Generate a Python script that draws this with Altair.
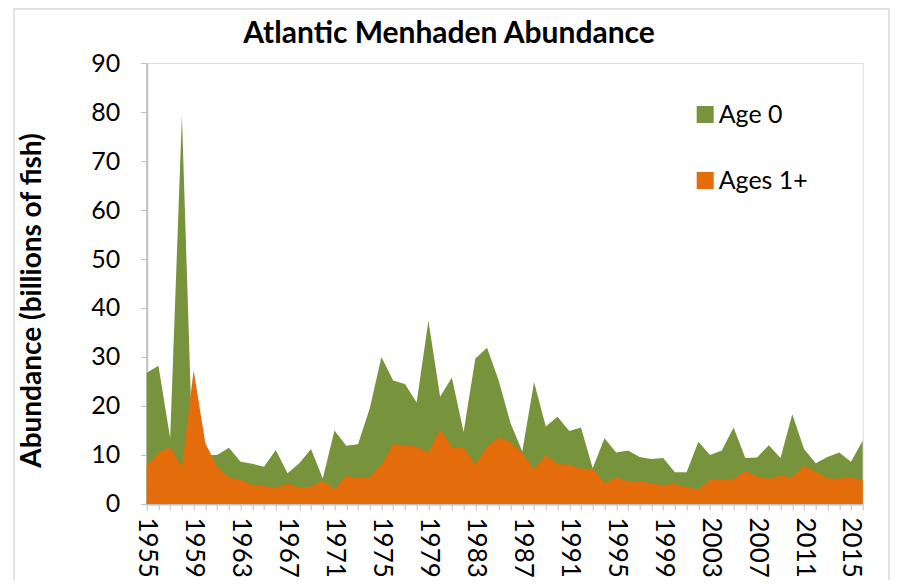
import altair as alt
import pandas as pd

years = list(range(1955, 2017))
age0 = [26.8, 28.2, 13.4, 79.3, 3.5, 10.0, 10.0, 11.5, 8.6, 8.2,
        7.6, 11.0, 6.3, 8.3, 11.2, 5.2, 15.0, 11.9, 12.2, 19.5,
        30.0, 25.2, 24.5, 20.7, 37.4, 21.9, 25.8, 14.7, 29.7, 31.9,
        25.1, 16.5, 10.7, 24.9, 15.8, 17.8, 14.9, 15.6, 7.3, 13.4,
        10.5, 10.9, 9.6, 9.2, 9.4, 6.5, 6.5, 12.7, 10.0, 10.9,
        15.6, 9.4, 9.5, 12.0, 9.4, 18.3, 11.2, 8.3, 9.6, 10.5,
        8.6, 12.9]
ages1 = [7.8, 10.5, 11.6, 7.5, 27.3, 12.4, 7.6, 5.4, 4.9, 3.9,
         3.7, 3.2, 4.2, 3.3, 3.5, 4.7, 3.0, 5.7, 5.4, 5.4,
         8.0, 12.2, 12.0, 11.7, 10.5, 15.2, 11.7, 11.5, 8.1, 11.7,
         13.6, 12.6, 10.3, 7.1, 10.0, 8.1, 8.0, 7.2, 7.2, 4.3,
         5.4, 4.7, 4.7, 4.2, 3.9, 4.1, 3.4, 3.0, 4.9, 4.9,
         5.1, 6.8, 5.6, 5.1, 5.8, 5.4, 7.8, 6.6, 5.2, 5.2,
         5.4, 4.9]
series = ["Age 0", "Ages 1+"]
colors = ["#77933C", "#E46C0A"]
y_ticks = list(range(0, 91, 10))
chart_title = "Atlantic Menhaden Abundance"

df = pd.DataFrame({"Year": years, "Age 0": age0, "Ages 1+": ages1})

FONT = "Lato"
GRAY = "#BFBFBF"

color_scale = alt.Scale(domain=series, range=colors)

x_enc = alt.X(
    "Year:Q",
    scale=alt.Scale(domain=[1955, 2016], nice=False, zero=False),
    axis=alt.Axis(
        title=None,
        values=years,
        labelExpr="(datum.value - 1955) % 4 == 0 ? datum.label : ''",
        format="d",
        labelAngle=90,
        labelAlign="left",
        labelBaseline="middle",
        labelPadding=7,
        labelOverlap=False,
        labelFontSize=26,
        labelFont=FONT,
        labelColor="#000000",
        tickSize=6,
        tickColor=GRAY,
        domainColor=GRAY,
        domainWidth=2,
        grid=False,
    ),
)

y_axis = alt.Axis(
    title="Abundance (billions of fish)",
    titleFont=FONT,
    titleFontSize=28,
    titleFontWeight="bold",
    titleColor="#000000",
    titleX=-100,
    titleY=237,
    values=y_ticks,
    labelFontSize=25,
    labelFont=FONT,
    labelColor="#000000",
    labelPadding=21,
    tickSize=6,
    tickColor=GRAY,
    domainColor=GRAY,
    domainWidth=2,
    grid=False,
)

base = alt.Chart(df)

green = base.mark_area(color=colors[0]).encode(
    x=x_enc,
    y=alt.Y("Age 0:Q", scale=alt.Scale(domain=[0, 90], nice=False), axis=y_axis),
    color=alt.Color(
        "s:N",
        scale=color_scale,
        legend=alt.Legend(
            title=None,
            orient="none",
            legendX=546,
            legendY=39,
            symbolType="square",
            symbolSize=289,
            symbolStrokeWidth=0,
            labelFontSize=25,
            labelFont=FONT,
            labelColor="#000000",
            labelOffset=1,
            rowPadding=40,
            padding=0,
        ),
    ),
).transform_calculate(s="'Age 0'")

orange = base.mark_area().encode(
    x=x_enc,
    y=alt.Y("Ages 1+:Q"),
    color=alt.Color("s:N", scale=color_scale),
).transform_calculate(s="'Ages 1+'")

frame = alt.Chart(alt.Data(values=[{}])).mark_rect(
    filled=False, stroke="#D9D9D9", strokeWidth=1.5
).encode(
    x=alt.value(-132.7), x2=alt.value(742.3),
    y=alt.value(-54), y2=alt.value(620),
)

title_text = alt.Chart(alt.Data(values=[{}])).mark_text(
    font=FONT, fontSize=30, fontWeight="bold", color="#000000",
    align="center", baseline="alphabetic",
).encode(
    x=alt.value(302.3), y=alt.value(-20), text=alt.value(chart_title),
)

chart = alt.layer(frame, green, orange, title_text).properties(
    width=716,
    height=441,
    autosize=alt.AutoSizeParams(type="none"),
    padding={"left": 138.7, "top": 55, "right": 27, "bottom": 76},
).configure_view(
    stroke=GRAY, strokeWidth=2
).configure(background="white")

chart.save("out.html", embed_options={"renderer": "svg", "actions": False})
